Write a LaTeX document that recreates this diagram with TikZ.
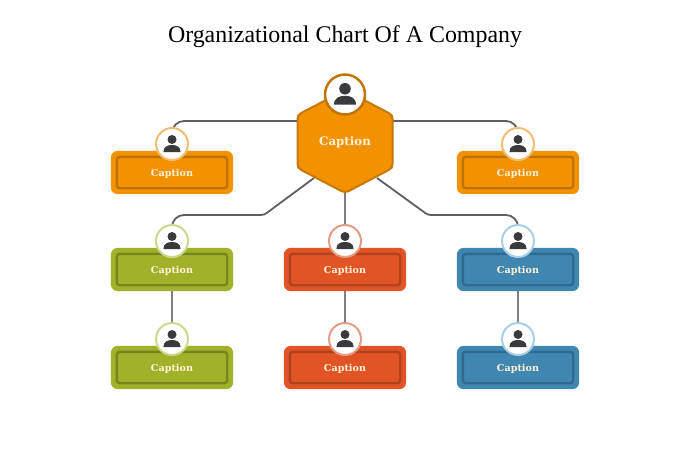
\documentclass[tikz,border=0pt]{standalone}
\usepackage{fontspec}
\setmainfont{Liberation Serif}
\newfontfamily\capfont{DejaVu Serif}
\usetikzlibrary{backgrounds}
\definecolor{linegray}{HTML}{5F5F63}
\definecolor{vgray}{HTML}{808084}
\definecolor{ink}{HTML}{3A3A3E}
\definecolor{cream}{HTML}{FFF1D6}
\definecolor{org}{HTML}{F39200}\definecolor{orgd}{HTML}{BC7207}\definecolor{orgl}{HTML}{F2BE72}
\definecolor{grn}{HTML}{A1B22A}\definecolor{grnd}{HTML}{76851F}\definecolor{grnl}{HTML}{CBD98F}
\definecolor{red2}{HTML}{E05426}\definecolor{redd}{HTML}{B0431E}\definecolor{redl}{HTML}{E59C84}
\definecolor{blu}{HTML}{3F86B1}\definecolor{blud}{HTML}{2F6A8F}\definecolor{blul}{HTML}{A8CFE6}
\tikzset{
  x=1pt,y=-1pt,
  conn/.style={draw=linegray,line width=1.8pt},
  vconn/.style={draw=vgray,line width=1.8pt},
  capbox/.style={rectangle,minimum width=122pt,minimum height=43pt,inner sep=0pt,
    text=cream,font=\capfont\bfseries\fontsize{9.6}{11}\selectfont},
  ring/.style={circle,fill=white,draw=#1,line width=2pt,minimum size=32pt,inner sep=0pt},
  person/.pic={
    \fill[ink] (0,-4.5) circle (4.5);
    \fill[ink] (-8.6,8) .. controls (-8.6,2.4) and (-4,1) .. (0,1) .. controls (4,1) and (8.6,2.4) .. (8.6,8) -- cycle;
  }
}
\newcommand{\capcard}[6]{% name, x, y, fill, dark, light
  \node[capbox] (#1) at (#2,#3) {\phantom{Caption}};
  \fill[#4,rounded corners=7pt] (#1.south west) rectangle (#1.north east);
  \draw[#5,line width=2.4pt,rounded corners=3pt] ([shift={(6,-6)}]#1.south west) rectangle ([shift={(-6,6)}]#1.north east);
  \node[capbox] at ([yshift=-1pt]#1.center) {Caption};
  \node[ring=#6] (c#1) at (#2,{#3-28.5}) {};
  \pic at (c#1) {person};
}
\begin{document}
\begin{tikzpicture}
\useasboundingbox (0,0) rectangle (700,450);
\node[font=\fontsize{23.9}{26}\selectfont,text=black] (title) at (345,36.5) {Organizational Chart Of A Company};
% hub
\fill[org] (345,90) -- (393,115) -- (393,168) -- (345,193) -- (297,168) -- (297,115) -- cycle;
\draw[orgd!80!org,line width=2pt,line join=round,rounded corners=4pt] (345,90) -- (392.5,115) -- (392.5,168) -- (345,193) -- (297.5,168) -- (297.5,115) -- cycle;
\node[text=cream,font=\capfont\bfseries\fontsize{11.8}{13}\selectfont] (hub) at (345,142) {Caption};
\node[ring=orgd!90!org,minimum size=40pt,line width=2.5pt] (chub) at (345,94.5) {};
\pic[scale=1.28] at (chub) {person};
% cards
\capcard{tl}{172}{172.5}{org}{orgd}{orgl}
\capcard{tr}{518}{172.5}{org}{orgd}{orgl}
\capcard{ml}{172}{269.5}{grn}{grnd}{grnl}
\capcard{mc}{345}{269.5}{red2}{redd}{redl}
\capcard{mr}{518}{269.5}{blu}{blud}{blul}
\capcard{bl}{172}{367.5}{grn}{grnd}{grnl}
\capcard{bc}{345}{367.5}{red2}{redd}{redl}
\capcard{br}{518}{367.5}{blu}{blud}{blul}
% connector anchors
\coordinate (hubW) at (298,121);
\coordinate (hubE) at (392,121);
\coordinate (hubSW) at (314,178);
\coordinate (hubSE) at (377,178);
\coordinate (hubS) at (345,193);
\coordinate (kneeL) at (264,215);
\coordinate (kneeR) at (428,215);
\begin{pgfonlayer}{background}
\draw[conn,rounded corners=12pt] (hubW) -| (ctl);
\draw[conn,rounded corners=12pt] (hubE) -| (ctr);
\draw[conn] (hubSW) [rounded corners=3pt] -- (kneeL) -- ++(-40,0) [rounded corners=12pt] -| (cml);
\draw[conn] (hubSE) [rounded corners=3pt] -- (kneeR) -- ++(40,0) [rounded corners=12pt] -| (cmr);
\draw[vconn] (hubS) -- (cmc);
\draw[vconn] (ml) -- (cbl);
\draw[vconn] (mc) -- (cbc);
\draw[vconn] (mr) -- (cbr);
\end{pgfonlayer}
\end{tikzpicture}
\end{document}
